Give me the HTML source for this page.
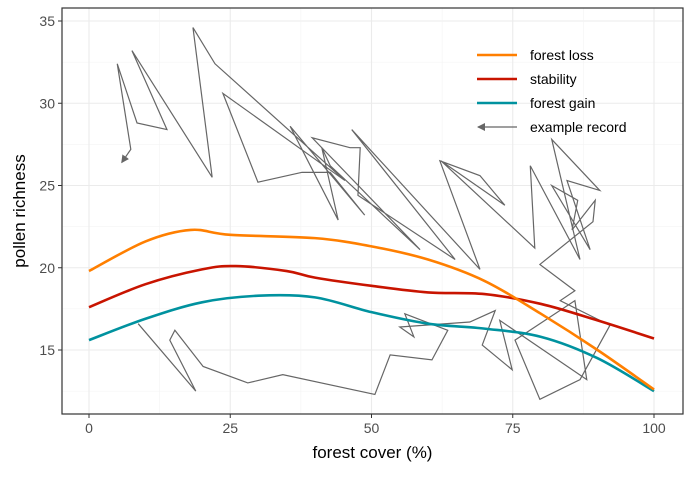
<!DOCTYPE html>
<html><head><meta charset="utf-8"><style>
body{margin:0;background:#fff;font-family:"Liberation Sans",sans-serif}
</style></head><body>
<svg id="c" width="692" height="473" xmlns="http://www.w3.org/2000/svg" font-family="Liberation Sans, sans-serif"></svg>
<script>
const xTicks=[0,25,50,75,100];
const yTicks=[15,20,25,30,35];
const curveX=[0,10,18,25,40,50,60,70,80,90,100];
const lossY=[19.8,21.6,22.3,22.0,21.8,21.3,20.5,19.2,17.2,15.0,12.6];
const curveX2=[0,10,20,26,35,40,50,60,70,80,90,100];
const stabY=[17.6,19.0,19.9,20.1,19.8,19.4,18.9,18.5,18.4,17.8,16.8,15.7];
const curveX3=[0,10,20,30,40,50,60,70,80,90,100];
const gainY=[15.6,16.9,17.9,18.3,18.2,17.3,16.6,16.3,15.8,14.5,12.5];
const recX=[5.8,7.4,5.0,8.5,13.8,7.6,21.8,18.4,22.3,45.3,23.7,29.9,37.7,42.7,48.8,35.6,44.1,41.2,42.7,58.6,39.5,46.2,48.0,47.6,64.8,46.5,69.2,62.1,69.2,73.6,62.3,78.9,78.1,86.9,81.9,90.4,84.6,88.7,81.9,86.5,85.5,89.6,89.2,79.8,86.0,83.4,92.2,86.9,79.8,75.4,86.0,88.1,72.7,74.9,69.6,71.9,67.4,55.0,57.5,55.9,63.5,60.7,53.3,50.6,34.3,28.1,20.2,15.2,14.3,18.9,8.7];
const recY=[26.4,27.2,32.4,28.8,28.4,33.2,25.5,34.6,32.4,25.3,30.6,25.2,25.8,25.8,23.2,28.6,22.9,27.3,26.2,21.1,27.9,27.3,27.3,24.4,20.5,28.4,19.9,26.5,25.6,23.8,26.5,21.2,26.2,20.5,27.8,24.7,25.3,21.1,25.0,24.1,22.3,24.1,22.8,20.2,18.6,18.0,16.5,13.2,12.0,15.6,18.0,13.2,16.8,13.8,15.3,17.4,16.7,16.4,15.8,17.2,16.2,14.4,14.7,12.3,13.5,13.0,14.0,16.2,15.6,12.5,16.6];
const NS="http://www.w3.org/2000/svg";
const svg=document.getElementById('c');
const X=v=>89+v*5.65, Y=v=>350-(v-15)*16.45;
const L=62,R=683,T=8,B=414;
function mk(t,a,p){const e=document.createElementNS(NS,t);for(const k in a)e.setAttribute(k,a[k]);(p||svg).appendChild(e);return e;}
const defs=mk('defs',{});
const mkr=mk('marker',{id:'arr',markerWidth:8,markerHeight:8,refX:7,refY:4,orient:'auto-start-reverse',markerUnits:'userSpaceOnUse'},defs);
mk('path',{d:'M0,0 L8,4 L0,8 Z',fill:'#666'},mkr);
// grid
for(let i=0;i<yTicks.length;i++){
  const g=mk('line',{x1:L,x2:R,y1:Y(yTicks[i]),y2:Y(yTicks[i]),stroke:'#ebebeb','stroke-width':1.1});
  
  if(i<yTicks.length-1){const m=(yTicks[i]+yTicks[i+1])/2;const h=mk('line',{x1:L,x2:R,y1:Y(m),y2:Y(m),stroke:'#f2f2f2','stroke-width':0.6});
  }
}
const ym=Y(12.5);mk('line',{x1:L,x2:R,y1:ym,y2:ym,stroke:'#f2f2f2','stroke-width':0.6});
for(let i=0;i<xTicks.length;i++){
  const g=mk('line',{y1:T,y2:B,x1:X(xTicks[i]),x2:X(xTicks[i]),stroke:'#ebebeb','stroke-width':1.1});
  
  if(i<xTicks.length-1){const m=(xTicks[i]+xTicks[i+1])/2;mk('line',{y1:T,y2:B,x1:X(m),x2:X(m),stroke:'#f2f2f2','stroke-width':0.6});}
}
// record
const rp=mk('polyline',{points:recX.map((v,i)=>X(v)+','+Y(recY[i])).join(' '),fill:'none',stroke:'#666','stroke-width':1.2,'stroke-linejoin':'miter','marker-start':'url(#arr)'});

function smooth(xs,ys){const p=xs.map((v,i)=>[X(v),Y(ys[i])]);let d='M'+p[0];
 for(let i=0;i<p.length-1;i++){const p0=p[Math.max(0,i-1)],p1=p[i],p2=p[i+1],p3=p[Math.min(p.length-1,i+2)];
 const c1=[p1[0]+(p2[0]-p0[0])/6,p1[1]+(p2[1]-p0[1])/6],c2=[p2[0]-(p3[0]-p1[0])/6,p2[1]-(p3[1]-p1[1])/6];
 d+=' C'+c1+' '+c2+' '+p2;}return d;}
const c1=mk('path',{d:smooth(curveX3,gainY),fill:'none',stroke:'#00929f','stroke-width':2.6});

const c2=mk('path',{d:smooth(curveX2,stabY),fill:'none',stroke:'#c81400','stroke-width':2.6});

const c3=mk('path',{d:smooth(curveX,lossY),fill:'none',stroke:'#ff7f00','stroke-width':2.6});

// border
const bd=mk('rect',{x:L,y:T,width:R-L,height:B-T,fill:'none',stroke:'#333','stroke-width':1.2});

// ticks
for(const t of yTicks){mk('line',{x1:L-4,x2:L,y1:Y(t),y2:Y(t),stroke:'#333'});
 const tx=mk('text',{x:L-7,y:Y(t)+5,'text-anchor':'end','font-size':14,fill:'#4d4d4d'});tx.textContent=t;
 }
for(const t of xTicks){mk('line',{y1:B,y2:B+4,x1:X(t),x2:X(t),stroke:'#333'});
 const tx=mk('text',{x:X(t),y:B+19,'text-anchor':'middle','font-size':14,fill:'#4d4d4d'});tx.textContent=t;
 }
const xt=mk('text',{x:(L+R)/2,y:458,'text-anchor':'middle','font-size':17,fill:'#000'});xt.textContent='forest cover (%)';

const yt=mk('text',{x:0,y:0,transform:'translate(25,211) rotate(-90)','text-anchor':'middle','font-size':17,fill:'#000'});yt.textContent='pollen richness';

// legend
const leg=[['forest loss','#ff7f00',55],['stability','#c81400',79],['forest gain','#00929f',103]];
for(const [t,c,y] of leg){const l=mk('line',{x1:477,x2:517,y1:y,y2:y,stroke:c,'stroke-width':2.6});
 
 const tx=mk('text',{x:530,y:y+5,'font-size':14,fill:'#000'});tx.textContent=t;
 }
const al=mk('line',{x1:517,x2:478,y1:127,y2:127,stroke:'#666','stroke-width':1.2,'marker-end':'url(#arr)'});

const at=mk('text',{x:530,y:132,'font-size':14,fill:'#000'});at.textContent='example record';

</script>
</body></html>
